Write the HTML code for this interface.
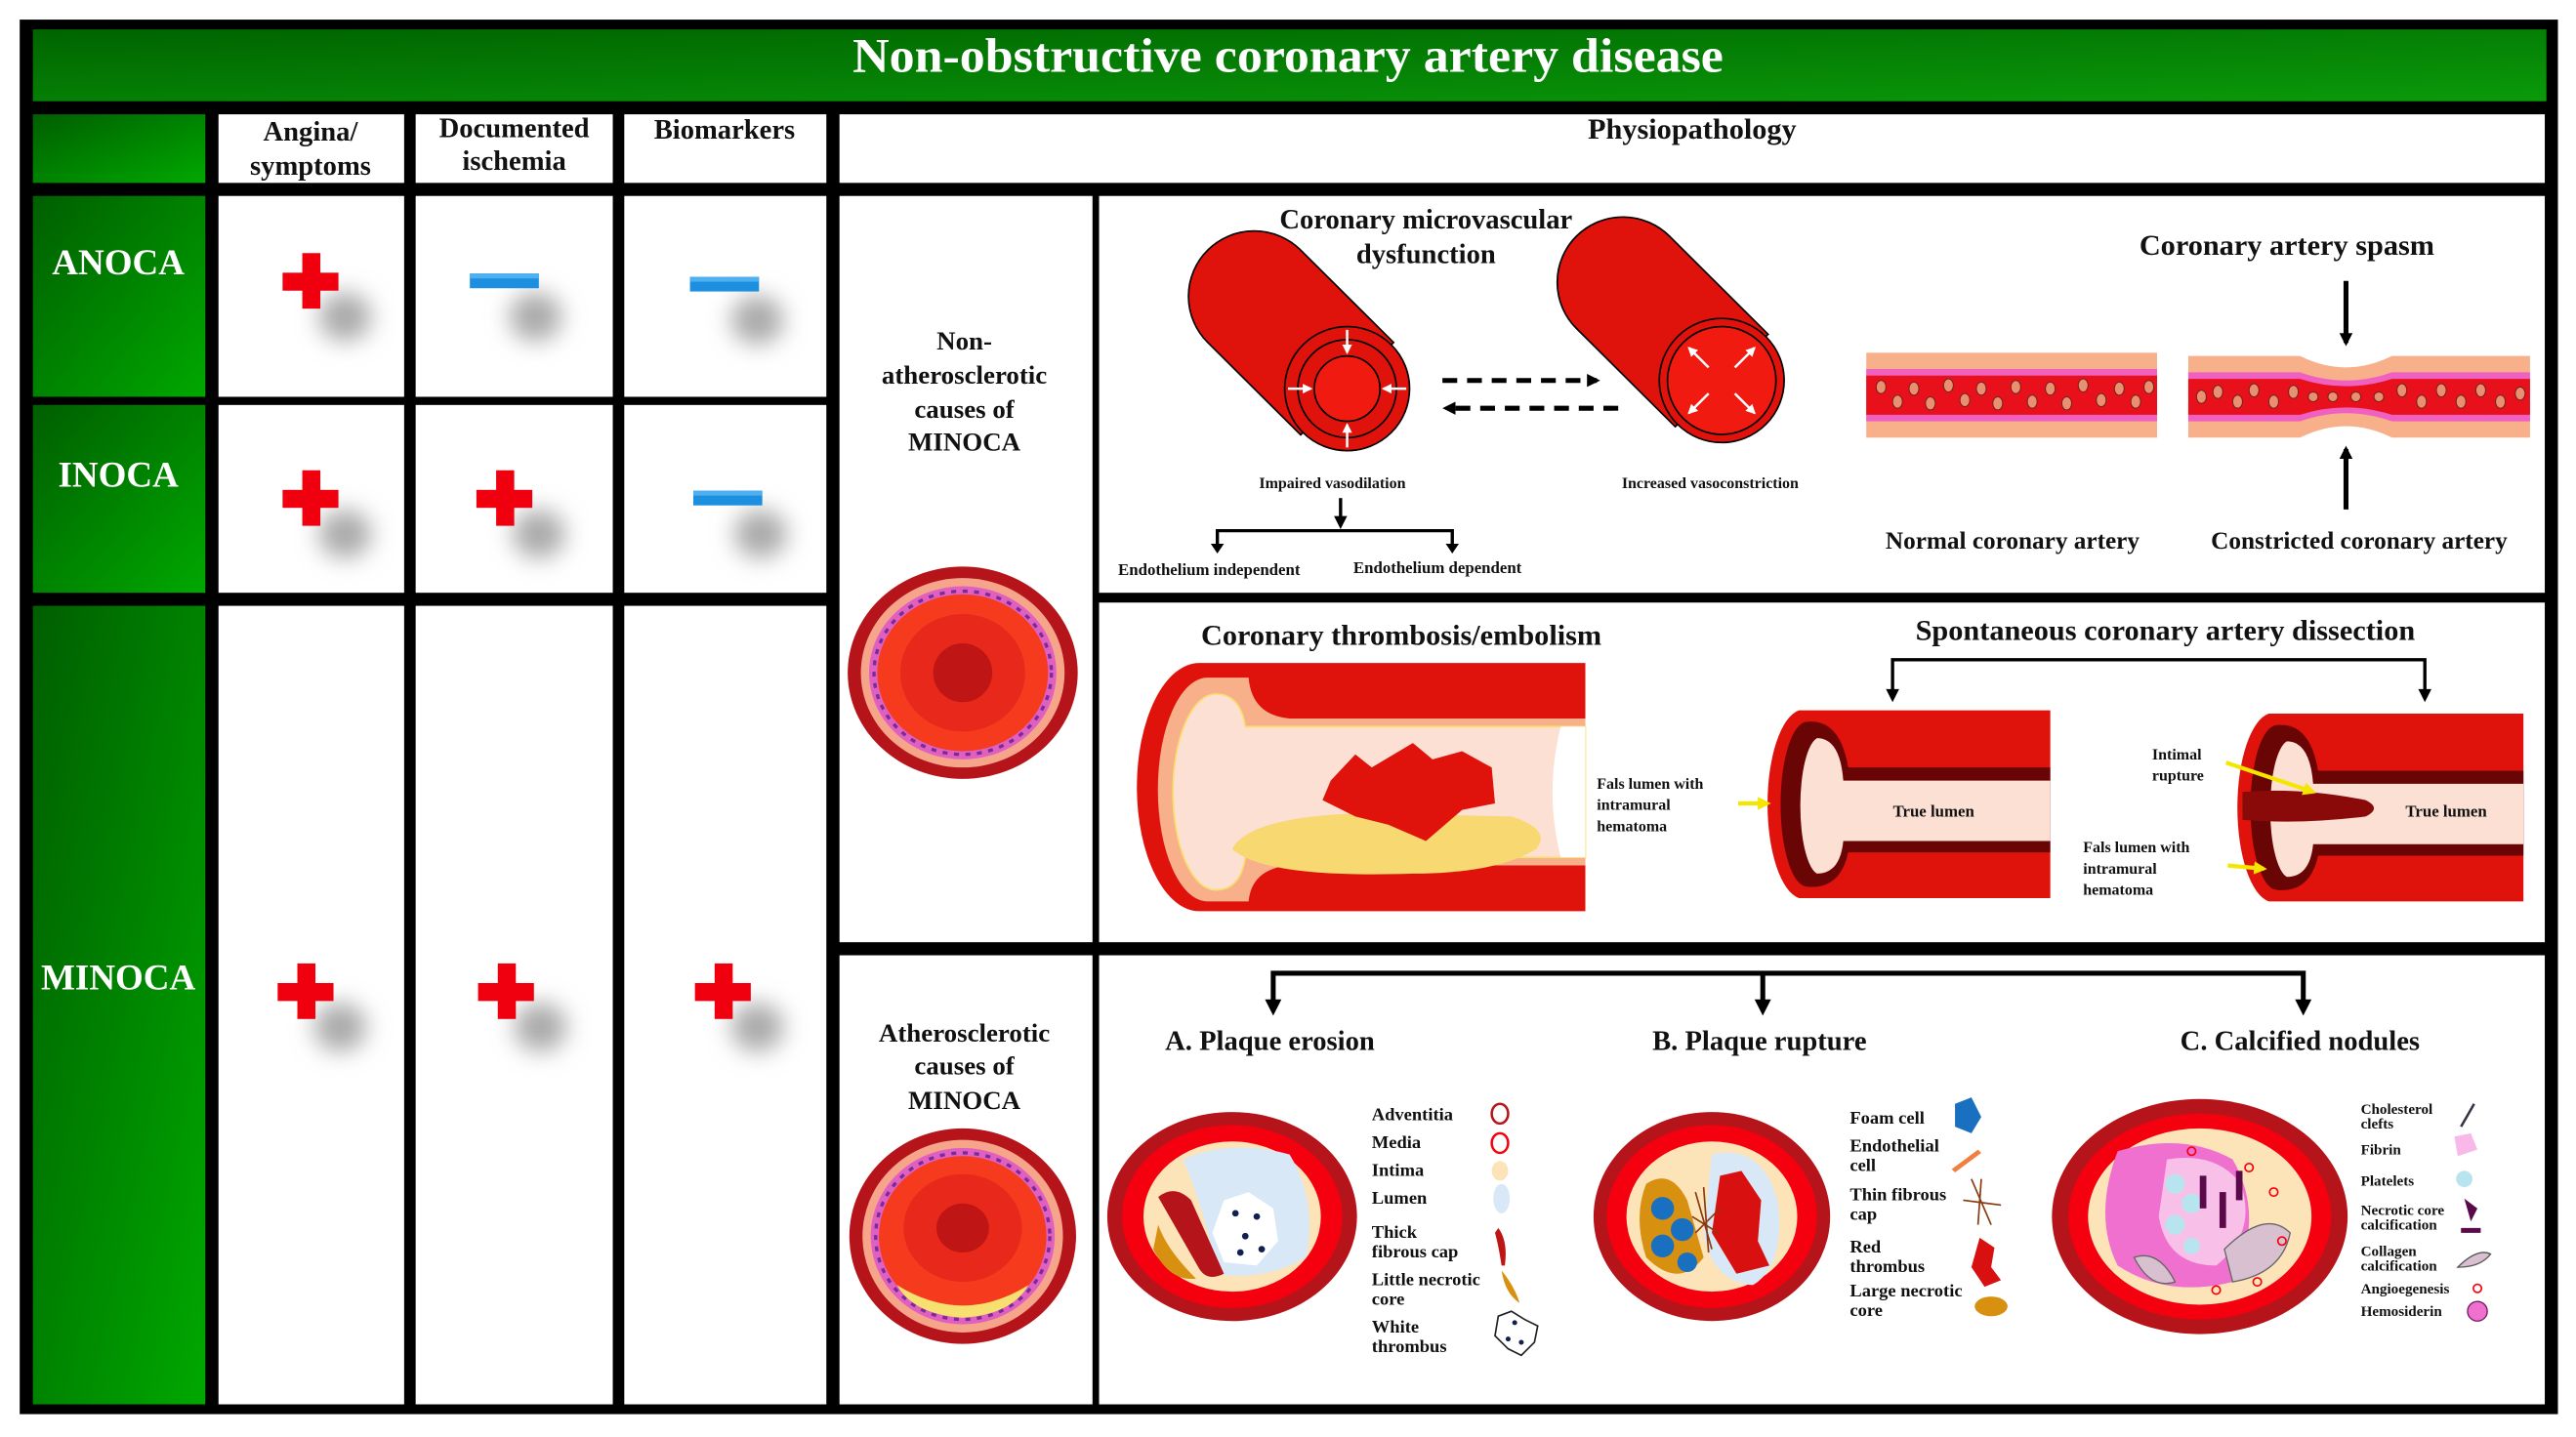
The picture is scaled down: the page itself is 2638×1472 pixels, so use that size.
<!DOCTYPE html>
<html><head><meta charset="utf-8"><style>
html,body{margin:0;padding:0;background:#fff;}
svg{display:block;}
text{font-family:"Liberation Serif",serif;font-weight:bold;fill:#111;}
</style></head><body>
<svg width="2638" height="1472" viewBox="0 0 1568 880" preserveAspectRatio="none" xmlns="http://www.w3.org/2000/svg">
<defs>
<linearGradient id="gh" x1="0" y1="0" x2="1" y2="1"><stop offset="0" stop-color="#006400"/><stop offset="1" stop-color="#0a9a0a"/></linearGradient>
<linearGradient id="gc" x1="0" y1="0" x2="1" y2="1"><stop offset="0" stop-color="#005e00"/><stop offset="1" stop-color="#00a800"/></linearGradient>
<filter id="bl" x="-1" y="-1" width="3" height="3"><feGaussianBlur stdDeviation="7"/></filter>
<marker id="ah" markerWidth="8" markerHeight="8" refX="6" refY="4" orient="auto" markerUnits="userSpaceOnUse"><path d="M0,0 L8,4 L0,8 Z" fill="#000"/></marker>
<marker id="aw" markerWidth="6" markerHeight="6" refX="5" refY="3" orient="auto" markerUnits="userSpaceOnUse"><path d="M0,0 L6,3 L0,6 Z" fill="#fff"/></marker>
<marker id="ay" markerWidth="8" markerHeight="8" refX="6" refY="4" orient="auto" markerUnits="userSpaceOnUse"><path d="M0,0 L8,4 L0,8 Z" fill="#f5e600"/></marker>
<g id="plus"><rect x="-17" y="-5" width="34" height="11" fill="#f0000f"/><rect x="-5" y="-17" width="11" height="34" fill="#f0000f"/></g>
<g id="minus"><rect x="-21" y="-4.5" width="42" height="9" fill="#1d8fe0"/><rect x="-21" y="-4.5" width="42" height="3" fill="#4fb0f0"/></g>
<g id="shad"><ellipse cx="0" cy="0" rx="16" ry="15" fill="#aaa" filter="url(#bl)"/></g>
</defs>
<rect x="0" y="0" width="1568" height="880" fill="#fff"/>
<rect x="12" y="12" width="1545" height="854" fill="#000"/>
<rect x="20" y="18" width="1530" height="44" fill="url(#gh)"/>
<text x="784" y="44" text-anchor="middle" font-size="30" style="fill:#fff" textLength="530" lengthAdjust="spacingAndGlyphs">Non-obstructive coronary artery disease</text>
<rect x="20" y="70" width="105" height="42" fill="url(#gc)"/>
<rect x="133" y="70" width="113" height="42" fill="#fff"/>
<rect x="253" y="70" width="120" height="42" fill="#fff"/>
<rect x="380" y="70" width="123" height="42" fill="#fff"/>
<rect x="511" y="70" width="1038" height="42" fill="#fff"/>
<text x="189" y="86" text-anchor="middle" font-size="17">Angina/</text>
<text x="189" y="107" text-anchor="middle" font-size="17">symptoms</text>
<text x="313" y="84" text-anchor="middle" font-size="17">Documented</text>
<text x="313" y="104" text-anchor="middle" font-size="17">ischemia</text>
<text x="441" y="85" text-anchor="middle" font-size="17">Biomarkers</text>
<text x="1030" y="85" text-anchor="middle" font-size="18">Physiopathology</text>
<rect x="20" y="120" width="105" height="123" fill="url(#gc)"/>
<rect x="20" y="248" width="105" height="115" fill="url(#gc)"/>
<rect x="20" y="371" width="105" height="489" fill="url(#gc)"/>
<text x="72" y="168" text-anchor="middle" font-size="22" style="fill:#fff">ANOCA</text>
<text x="72" y="298" text-anchor="middle" font-size="22" style="fill:#fff">INOCA</text>
<text x="72" y="606" text-anchor="middle" font-size="22" style="fill:#fff">MINOCA</text>
<g fill="#fff">
<rect x="133" y="120" width="113" height="123"/><rect x="253" y="120" width="120" height="123"/><rect x="380" y="120" width="123" height="123"/>
<rect x="133" y="248" width="113" height="115"/><rect x="253" y="248" width="120" height="115"/><rect x="380" y="248" width="123" height="115"/>
<rect x="133" y="371" width="113" height="489"/><rect x="253" y="371" width="120" height="489"/><rect x="380" y="371" width="123" height="489"/>
</g>
<use href="#shad" x="210" y="194"/><use href="#plus" x="189" y="172"/>
<use href="#shad" x="326" y="194"/><use href="#minus" x="307" y="172"/>
<use href="#shad" x="461" y="196"/><use href="#minus" x="441" y="174"/>
<use href="#shad" x="210" y="327"/><use href="#plus" x="189" y="305"/>
<use href="#shad" x="328" y="327"/><use href="#plus" x="307" y="305"/>
<use href="#shad" x="463" y="327"/><use href="#minus" x="443" y="305"/>
<use href="#shad" x="207" y="629"/><use href="#plus" x="186" y="607"/>
<use href="#shad" x="329" y="629"/><use href="#plus" x="308" y="607"/>
<use href="#shad" x="461" y="629"/><use href="#plus" x="440" y="607"/>
<rect x="511" y="120" width="154" height="457" fill="#fff"/>
<rect x="511" y="585" width="154" height="275" fill="#fff"/>
<rect x="669" y="120" width="880" height="243" fill="#fff"/>
<rect x="669" y="369" width="880" height="208" fill="#fff"/>
<rect x="669" y="585" width="880" height="275" fill="#fff"/>
<g font-size="16" text-anchor="middle">
<text x="587" y="214">Non-</text><text x="587" y="235">atherosclerotic</text><text x="587" y="256">causes of</text><text x="587" y="276">MINOCA</text>
<text x="587" y="638">Atherosclerotic</text><text x="587" y="658">causes of</text><text x="587" y="679">MINOCA</text>
</g>
<g transform="translate(586,412)">
<ellipse rx="70" ry="65" fill="#b5151a"/><ellipse rx="62" ry="58" fill="#f7a58a"/><ellipse rx="57" ry="53" fill="#e060c0"/>
<ellipse rx="54" ry="50" fill="none" stroke="#7a2a9a" stroke-width="2" stroke-dasharray="3 4"/>
<ellipse rx="52" ry="48" fill="#f63a1e"/><ellipse rx="38" ry="36" fill="#e8281a"/><ellipse rx="18" ry="18" fill="#c01515"/>
</g>
<g transform="translate(586,757)">
<ellipse rx="69" ry="66" fill="#b5151a"/><ellipse rx="61" ry="59" fill="#f7a58a"/><ellipse rx="56" ry="54" fill="#e060c0"/>
<ellipse rx="53" ry="51" fill="none" stroke="#7a2a9a" stroke-width="2" stroke-dasharray="3 4"/>
<ellipse rx="51" ry="49" fill="#f63a1e"/><ellipse rx="36" ry="33" fill="#e8281a" cy="-5"/><ellipse rx="16" ry="15" cy="-5" fill="#c01515"/>
<path d="M-40,30 Q0,55 40,30 Q30,48 0,50 Q-30,48 -40,30Z" fill="#f7e070"/>
</g>
<!-- microvascular -->
<g transform="translate(820,238) rotate(45)">
<path d="M0,-40 L-80,-40 A40,40 0 0 0 -80,40 L0,40 Z" fill="#e0120c" stroke="#000" stroke-width="1"/>
</g>
<circle cx="820" cy="238" r="38" fill="#e0120c" stroke="#000" stroke-width="1"/>
<circle cx="820" cy="238" r="30" fill="#e0120c" stroke="#000" stroke-width="1"/>
<circle cx="820" cy="238" r="20" fill="#f01a10" stroke="#000" stroke-width="1"/>
<g stroke="#fff" stroke-width="1.5" marker-end="url(#aw)">
<line x1="820" y1="202" x2="820" y2="216"/><line x1="820" y1="274" x2="820" y2="260"/>
<line x1="784" y1="238" x2="798" y2="238"/><line x1="856" y1="238" x2="842" y2="238"/>
</g>
<g transform="translate(1048,233) rotate(45)">
<path d="M0,-40 L-85,-40 A40,40 0 0 0 -85,40 L0,40 Z" fill="#e0120c" stroke="#000" stroke-width="1"/>
</g>
<circle cx="1048" cy="233" r="38" fill="#e0120c" stroke="#000" stroke-width="1"/>
<circle cx="1048" cy="233" r="33" fill="#f01a10" stroke="#000" stroke-width="1"/>
<g stroke="#fff" stroke-width="1.5" marker-end="url(#aw)">
<line x1="1040" y1="225" x2="1028" y2="213"/><line x1="1056" y1="225" x2="1068" y2="213"/>
<line x1="1040" y1="241" x2="1028" y2="253"/><line x1="1056" y1="241" x2="1068" y2="253"/>
</g>
<text x="868" y="140" text-anchor="middle" font-size="17">Coronary microvascular</text>
<text x="868" y="161" text-anchor="middle" font-size="17">dysfunction</text>
<g stroke="#000" stroke-width="3" stroke-dasharray="9 6" fill="none">
<line x1="878" y1="233" x2="972" y2="233" marker-end="url(#ah)"/>
<line x1="985" y1="250" x2="880" y2="250" marker-end="url(#ah)"/>
</g>
<text x="811" y="299" text-anchor="middle" font-size="9.5">Impaired vasodilation</text>
<text x="1041" y="299" text-anchor="middle" font-size="9.5">Increased vasoconstriction</text>
<g stroke="#000" stroke-width="2" fill="none">
<line x1="816" y1="305" x2="816" y2="322" marker-end="url(#ah)"/>
<polyline points="741,336 741,325 884,325 884,336"/>
</g>
<path d="M737,333 L745,333 L741,339Z M880,333 L888,333 L884,339Z"/>
<text x="736" y="352" text-anchor="middle" font-size="10">Endothelium independent</text>
<text x="875" y="351" text-anchor="middle" font-size="10">Endothelium dependent</text>
<text x="1392" y="156" text-anchor="middle" font-size="18">Coronary artery spasm</text>
<line x1="1428" y1="172" x2="1428" y2="210" stroke="#000" stroke-width="3" marker-end="url(#ah)"/>
<line x1="1428" y1="312" x2="1428" y2="275" stroke="#000" stroke-width="3" marker-end="url(#ah)"/>
<rect x="1136" y="216" width="177" height="52" fill="#f8b08a"/>
<rect x="1136" y="226" width="177" height="32" fill="#f060c0"/>
<rect x="1136" y="230" width="177" height="24" fill="#e8101a"/>
<g fill="#e89070" stroke="#7a2020" stroke-width="0.6">
<ellipse cx="1145" cy="237" rx="3" ry="4"/><ellipse cx="1155" cy="246" rx="3" ry="4"/><ellipse cx="1165" cy="238" rx="3" ry="4"/><ellipse cx="1175" cy="247" rx="3" ry="4"/><ellipse cx="1186" cy="236" rx="3" ry="4"/><ellipse cx="1196" cy="245" rx="3" ry="4"/><ellipse cx="1206" cy="238" rx="3" ry="4"/><ellipse cx="1216" cy="247" rx="3" ry="4"/><ellipse cx="1227" cy="237" rx="3" ry="4"/><ellipse cx="1237" cy="246" rx="3" ry="4"/><ellipse cx="1248" cy="238" rx="3" ry="4"/><ellipse cx="1258" cy="247" rx="3" ry="4"/><ellipse cx="1268" cy="236" rx="3" ry="4"/><ellipse cx="1279" cy="245" rx="3" ry="4"/><ellipse cx="1290" cy="238" rx="3" ry="4"/><ellipse cx="1300" cy="246" rx="3" ry="4"/><ellipse cx="1308" cy="237" rx="3" ry="4"/>
</g>
<path d="M1332,218 L1400,218 Q1428,232 1456,218 L1540,218 L1540,268 L1456,268 Q1428,254 1400,268 L1332,268 Z" fill="#f8b08a"/>
<path d="M1332,228 L1400,228 Q1428,238 1456,228 L1540,228 L1540,258 L1456,258 Q1428,248 1400,258 L1332,258 Z" fill="#f060c0"/>
<path d="M1332,232 L1400,232 Q1428,241 1456,232 L1540,232 L1540,254 L1456,254 Q1428,245 1400,254 L1332,254 Z" fill="#e8101a"/>
<g fill="#e89070" stroke="#7a2020" stroke-width="0.6">
<ellipse cx="1340" cy="243" rx="3" ry="4"/><ellipse cx="1350" cy="240" rx="3" ry="4"/><ellipse cx="1362" cy="246" rx="3" ry="4"/><ellipse cx="1372" cy="239" rx="3" ry="4"/><ellipse cx="1384" cy="246" rx="3" ry="4"/><ellipse cx="1396" cy="240" rx="3" ry="4"/><ellipse cx="1408" cy="243" rx="3" ry="3"/><ellipse cx="1420" cy="243" rx="3" ry="3"/><ellipse cx="1434" cy="243" rx="3" ry="3"/><ellipse cx="1448" cy="243" rx="3" ry="3"/><ellipse cx="1462" cy="239" rx="3" ry="4"/><ellipse cx="1474" cy="246" rx="3" ry="4"/><ellipse cx="1486" cy="239" rx="3" ry="4"/><ellipse cx="1498" cy="246" rx="3" ry="4"/><ellipse cx="1510" cy="239" rx="3" ry="4"/><ellipse cx="1522" cy="246" rx="3" ry="4"/><ellipse cx="1534" cy="241" rx="3" ry="4"/>
</g>
<text x="1225" y="336" text-anchor="middle" font-size="15">Normal coronary artery</text>
<text x="1436" y="336" text-anchor="middle" font-size="15">Constricted coronary artery</text>
<text x="853" y="395" text-anchor="middle" font-size="18">Coronary thrombosis/embolism</text>
<path d="M730,406 L965,406 L965,558 L730,558 A38,76 0 0 1 730,406Z" fill="#e0120c"/>
<path d="M735,415 L760,415 Q762,438 785,440 L965,440 L965,530 L785,530 Q762,532 760,552 L735,552 A30,68 0 0 1 735,415Z" fill="#f8b08a"/>
<path d="M740,425 Q755,425 758,445 L965,445 L965,525 L758,525 Q755,545 740,545 A26,60 0 0 1 740,425Z" fill="#fde0d4" stroke="#f8e070" stroke-width="1"/>
<path d="M950,445 Q940,485 950,525 L965,525 L965,445Z" fill="#fff"/>
<path d="M750,520 Q760,500 830,498 L920,500 Q945,508 935,520 Q910,535 860,535 Q770,538 750,520Z" fill="#f8d870"/>
<path d="M810,478 L825,462 L835,470 L860,455 L872,465 L890,460 L908,470 L910,492 L890,496 L868,515 L845,505 L825,500 L805,490Z" fill="#e0120c"/>
<text x="1318" y="392" text-anchor="middle" font-size="18">Spontaneous coronary artery dissection</text>
<g stroke="#000" stroke-width="2" fill="none"><polyline points="1152,426 1152,404 1476,404 1476,426"/></g>
<path d="M1148,422 L1156,422 L1152,430Z M1472,422 L1480,422 L1476,430Z"/>
<path d="M1095,435 L1248,435 L1248,550 L1095,550 A22,58 0 0 1 1095,435Z" fill="#e0120c"/>
<path d="M1100,442 Q1120,440 1125,470 L1248,470 L1248,522 L1125,522 Q1120,545 1100,543 A16,50 0 0 1 1100,442Z" fill="#6a0505"/>
<path d="M1106,452 Q1120,452 1122,478 L1248,478 L1248,515 L1122,515 Q1120,535 1106,535 A12,42 0 0 1 1106,452Z" fill="#fde0d4"/>
<text x="1177" y="500" text-anchor="middle" font-size="10">True lumen</text>
<g font-size="9.5"><text x="972" y="483">Fals lumen with</text><text x="972" y="496">intramural</text><text x="972" y="509">hematoma</text></g>
<line x1="1058" y1="492" x2="1076" y2="492" stroke="#f5e600" stroke-width="2.5" marker-end="url(#ay)"/>
<path d="M1381,437 L1536,437 L1536,552 L1381,552 A22,58 0 0 1 1381,437Z" fill="#e0120c"/>
<path d="M1386,444 Q1406,442 1411,472 L1536,472 L1536,524 L1411,524 Q1406,547 1386,545 A16,50 0 0 1 1386,444Z" fill="#6a0505"/>
<path d="M1392,454 Q1406,454 1408,480 L1536,480 L1536,517 L1408,517 Q1406,537 1392,537 A12,42 0 0 1 1392,454Z" fill="#fde0d4"/>
<path d="M1365,485 Q1400,482 1440,490 Q1450,495 1440,500 Q1400,505 1365,502Z" fill="#8a0a0a"/>
<text x="1489" y="500" text-anchor="middle" font-size="10">True lumen</text>
<g font-size="9.5"><text x="1310" y="465">Intimal</text><text x="1310" y="478">rupture</text>
<text x="1268" y="522">Fals lumen with</text><text x="1268" y="535">intramural</text><text x="1268" y="548">hematoma</text></g>
<line x1="1355" y1="467" x2="1408" y2="485" stroke="#f5e600" stroke-width="2.5" marker-end="url(#ay)"/>
<line x1="1356" y1="530" x2="1378" y2="532" stroke="#f5e600" stroke-width="2.5" marker-end="url(#ay)"/>
<g stroke="#000" stroke-width="3" fill="none"><polyline points="775,614 775,596 1402,596 1402,614"/><line x1="1073" y1="596" x2="1073" y2="614"/></g>
<path d="M770,612 L780,612 L775,622Z M1068,612 L1078,612 L1073,622Z M1397,612 L1407,612 L1402,622Z"/>
<text x="773" y="643" text-anchor="middle" font-size="17">A. Plaque erosion</text>
<text x="1071" y="643" text-anchor="middle" font-size="17">B. Plaque rupture</text>
<text x="1400" y="643" text-anchor="middle" font-size="17">C. Calcified nodules</text>
<g transform="translate(750,745)">
<ellipse rx="76" ry="64" fill="#b5151a"/><ellipse rx="67" ry="56" fill="#f5000f"/><ellipse rx="54" ry="46" fill="#fde4b8"/>
<path d="M-30,-35 Q0,-48 35,-38 Q52,-10 45,25 Q20,40 -10,35 Q-15,0 -30,-35Z" fill="#d8e8f6"/>
<path d="M-5,-10 L10,-15 L25,-5 L28,15 L15,30 L-5,28 L-12,10Z" fill="#fff"/>
<g fill="#102050"><circle cx="2" cy="-2" r="2"/><circle cx="15" cy="0" r="2"/><circle cx="8" cy="12" r="2"/><circle cx="18" cy="20" r="2"/><circle cx="5" cy="22" r="2"/></g>
<path d="M-45,-12 Q-35,-20 -25,-10 L-5,35 Q-15,40 -20,32Z" fill="#b5151a"/>
<path d="M-45,5 Q-40,20 -22,38 Q-38,40 -48,20Z" fill="#d89010"/>
</g>
<g font-size="11">
<text x="835" y="686">Adventitia</text><text x="835" y="703">Media</text><text x="835" y="720">Intima</text><text x="835" y="737">Lumen</text>
<text x="835" y="758">Thick</text><text x="835" y="770">fibrous cap</text><text x="835" y="787">Little necrotic</text><text x="835" y="799">core</text>
<text x="835" y="816">White</text><text x="835" y="828">thrombus</text>
</g>
<ellipse cx="913" cy="682" rx="5" ry="6" fill="none" stroke="#b5151a" stroke-width="1.5"/>
<ellipse cx="913" cy="700" rx="5" ry="6" fill="none" stroke="#f5000f" stroke-width="1.5"/>
<ellipse cx="913" cy="717" rx="5" ry="6" fill="#fde4b8"/>
<ellipse cx="914" cy="734" rx="5" ry="9" fill="#d8e8f6"/>
<path d="M912,752 Q918,760 916,775 L914,775 Q912,762 910,755Z" fill="#c01515"/>
<path d="M914,778 Q922,788 925,798 Q916,792 914,778Z" fill="#d89010"/>
<path d="M912,806 L920,803 L928,808 L936,812 L934,822 L926,830 L918,826 L910,818Z" fill="#fff" stroke="#222" stroke-width="1"/>
<g fill="#102050"><circle cx="922" cy="810" r="1.5"/><circle cx="918" cy="820" r="1.5"/><circle cx="926" cy="822" r="1.5"/></g>
<g transform="translate(1042,745)">
<ellipse rx="72" ry="64" fill="#b5151a"/><ellipse rx="64" ry="56" fill="#f5000f"/><ellipse rx="52" ry="46" fill="#fde4b8"/>
<path d="M0,-38 Q30,-45 40,-10 Q45,30 25,42 Q0,40 -5,10Z" fill="#d8e8f6"/>
<path d="M-40,-20 Q-25,-30 -15,-10 L-5,25 Q-20,45 -40,25 Q-48,0 -40,-20Z" fill="#d89010"/>
<g fill="#1a70c0"><circle cx="-30" cy="-5" r="7"/><circle cx="-18" cy="8" r="7"/><circle cx="-30" cy="18" r="7"/><circle cx="-15" cy="28" r="6"/></g>
<path d="M5,-25 L18,-28 L30,-10 L28,15 L35,30 L15,35 L0,10 Z" fill="#d81010"/>
<g stroke="#8a3a10" stroke-width="1"><line x1="-10" y1="-15" x2="0" y2="20"/><line x1="-5" y1="-18" x2="-2" y2="22"/><line x1="-12" y1="0" x2="4" y2="10"/><line x1="-10" y1="10" x2="5" y2="-5"/></g>
</g>
<g font-size="11">
<text x="1126" y="688">Foam cell</text><text x="1126" y="705">Endothelial</text><text x="1126" y="717">cell</text>
<text x="1126" y="735">Thin fibrous</text><text x="1126" y="747">cap</text><text x="1126" y="767">Red</text><text x="1126" y="779">thrombus</text>
<text x="1126" y="794">Large necrotic</text><text x="1126" y="806">core</text>
</g>
<path d="M1190,676 L1200,672 L1206,684 L1200,694 L1190,690Z" fill="#1a70c0"/>
<path d="M1188,716 L1204,704 L1206,706 L1190,718Z" fill="#f08040"/>
<g stroke="#8a3a10" stroke-width="1"><line x1="1200" y1="722" x2="1212" y2="750"/><line x1="1206" y1="722" x2="1204" y2="750"/><line x1="1195" y1="735" x2="1218" y2="738"/></g>
<path d="M1205,758 L1214,764 L1212,776 L1218,784 L1208,788 L1200,776Z" fill="#d81010"/>
<ellipse cx="1212" cy="800" rx="10" ry="6" fill="#d89010"/>
<g transform="translate(1339,745)">
<ellipse rx="90" ry="72" fill="#b5151a"/><ellipse rx="80" ry="63" fill="#f5000f"/><ellipse rx="68" ry="54" fill="#fde4b8"/>
<path d="M-50,-40 Q-10,-52 20,-35 Q40,0 20,40 Q-20,50 -50,30 Q-65,0 -50,-40Z" fill="#f070d0"/>
<path d="M-20,-35 Q10,-40 25,-20 Q35,10 10,30 Q-20,30 -25,0Z" fill="#f8c0e8"/>
<g fill="#b8e4f0"><circle cx="-15" cy="-20" r="6"/><circle cx="-5" cy="-8" r="6"/><circle cx="-15" cy="5" r="6"/><circle cx="-5" cy="18" r="5"/></g>
<g fill="#5a0a4a"><rect x="0" y="-25" width="4" height="20"/><rect x="12" y="-15" width="4" height="22"/><rect x="22" y="-28" width="4" height="18"/></g>
<path d="M15,20 Q40,-5 55,10 Q50,35 20,40Z" fill="#d8c0d0" stroke="#666" stroke-width="0.8"/>
<path d="M-40,25 Q-25,20 -15,40 Q-30,45 -40,25Z" fill="#d8c0d0" stroke="#666" stroke-width="0.8"/>
<g fill="none" stroke="#f5000f" stroke-width="1"><circle cx="30" cy="-30" r="2.5"/><circle cx="45" cy="-15" r="2.5"/><circle cx="50" cy="15" r="2.5"/><circle cx="35" cy="40" r="2.5"/><circle cx="10" cy="45" r="2.5"/><circle cx="-5" cy="-40" r="2.5"/></g>
</g>
<g font-size="9">
<text x="1437" y="682">Cholesterol</text><text x="1437" y="691">clefts</text><text x="1437" y="707">Fibrin</text><text x="1437" y="726">Platelets</text>
<text x="1437" y="744">Necrotic core</text><text x="1437" y="753">calcification</text><text x="1437" y="769">Collagen</text><text x="1437" y="778">calcification</text>
<text x="1437" y="792">Angioegenesis</text><text x="1437" y="806">Hemosiderin</text>
</g>
<line x1="1498" y1="690" x2="1506" y2="676" stroke="#334" stroke-width="1.5"/>
<path d="M1494,696 L1504,694 L1508,704 L1496,708Z" fill="#f8b8e8"/>
<circle cx="1500" cy="722" r="5" fill="#b8e4f0"/>
<path d="M1500,734 L1508,740 L1504,748Z M1498,752 L1510,752 L1510,755 L1498,755Z" fill="#5a0a4a"/>
<path d="M1496,776 Q1508,764 1516,768 Q1510,776 1496,776Z" fill="#d8c0d0" stroke="#555" stroke-width="0.8"/>
<circle cx="1508" cy="789" r="2.5" fill="none" stroke="#f5000f"/>
<circle cx="1508" cy="803" r="6" fill="#f070d0" stroke="#702060" stroke-width="0.8"/>
</svg>
</body></html>
